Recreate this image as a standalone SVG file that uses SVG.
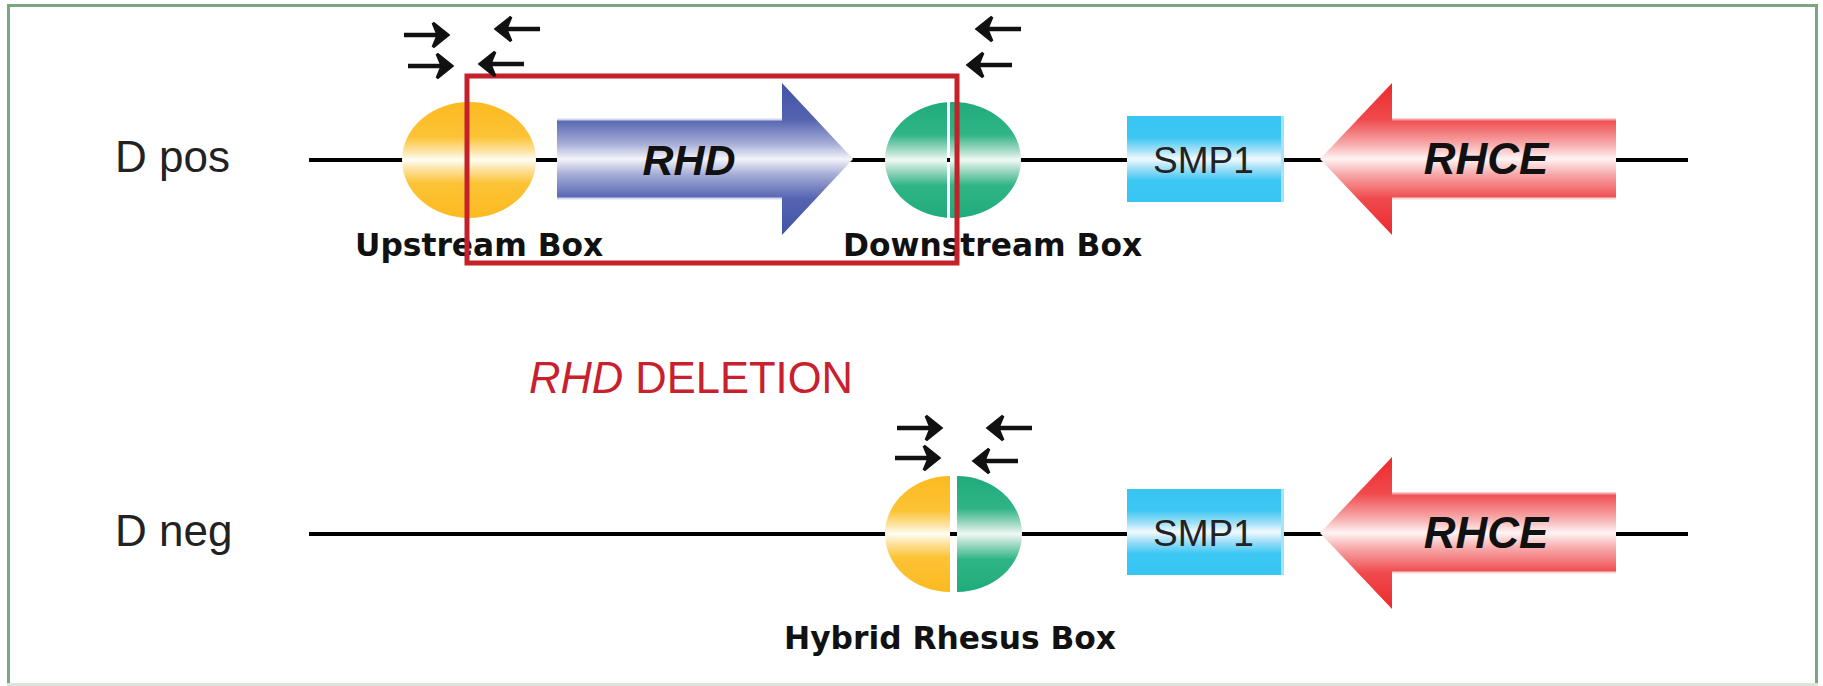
<svg xmlns="http://www.w3.org/2000/svg" width="1823" height="686" viewBox="0 0 1823 686">
<style>
.lbl{font-family:"Liberation Sans",Arial,sans-serif;fill:#222}
.gene{font-family:"Liberation Sans",Arial,sans-serif;font-weight:bold;font-style:italic;fill:#111}
.cap{font-family:"DejaVu Sans",Verdana,sans-serif;font-weight:bold;fill:#111;font-size:31.3px}
.chrom{stroke:#000;stroke-width:4;fill:none}
.primer{stroke:#111;fill:#111;stroke-linejoin:miter}
</style>
<defs>
<linearGradient id="gy" x1="0" y1="0" x2="0" y2="1">
<stop offset="0" stop-color="#FCBA20"/><stop offset="0.3" stop-color="#FCC336"/><stop offset="0.42" stop-color="#FDE2A0"/><stop offset="0.5" stop-color="#FFFDF5"/><stop offset="0.58" stop-color="#FDE2A0"/><stop offset="0.7" stop-color="#FCC336"/><stop offset="1" stop-color="#FCBA20"/>
</linearGradient>
<linearGradient id="gg" x1="0" y1="0" x2="0" y2="1">
<stop offset="0" stop-color="#20AB7C"/><stop offset="0.28" stop-color="#2FB585"/><stop offset="0.42" stop-color="#A8DCC8"/><stop offset="0.5" stop-color="#F1F9F6"/><stop offset="0.58" stop-color="#A8DCC8"/><stop offset="0.72" stop-color="#2FB585"/><stop offset="1" stop-color="#20AB7C"/>
</linearGradient>
<linearGradient id="gb" gradientUnits="userSpaceOnUse" x1="0" y1="83" x2="0" y2="235">
<stop offset="0" stop-color="#4353A7"/><stop offset="0.24" stop-color="#5464B0"/><stop offset="0.4" stop-color="#A6ADD6"/><stop offset="0.5" stop-color="#F4F4FA"/><stop offset="0.6" stop-color="#A6ADD6"/><stop offset="0.76" stop-color="#5464B0"/><stop offset="1" stop-color="#4353A7"/>
</linearGradient>
<linearGradient id="gr" gradientUnits="userSpaceOnUse" x1="0" y1="83" x2="0" y2="235">
<stop offset="0" stop-color="#EC2A2C"/><stop offset="0.24" stop-color="#F04A4D"/><stop offset="0.4" stop-color="#F7A9AA"/><stop offset="0.5" stop-color="#FFF4F4"/><stop offset="0.6" stop-color="#F7A9AA"/><stop offset="0.76" stop-color="#F04A4D"/><stop offset="1" stop-color="#EC2A2C"/>
</linearGradient>
<linearGradient id="gr2" gradientUnits="userSpaceOnUse" x1="0" y1="457" x2="0" y2="609">
<stop offset="0" stop-color="#EC2A2C"/><stop offset="0.24" stop-color="#F04A4D"/><stop offset="0.4" stop-color="#F7A9AA"/><stop offset="0.5" stop-color="#FFF4F4"/><stop offset="0.6" stop-color="#F7A9AA"/><stop offset="0.76" stop-color="#F04A4D"/><stop offset="1" stop-color="#EC2A2C"/>
</linearGradient>
<linearGradient id="gc" x1="0" y1="0" x2="0" y2="1">
<stop offset="0" stop-color="#37C5F3"/><stop offset="0.25" stop-color="#3DC7F3"/><stop offset="0.4" stop-color="#A6E1F8"/><stop offset="0.5" stop-color="#F2FAFE"/><stop offset="0.6" stop-color="#A6E1F8"/><stop offset="0.75" stop-color="#3DC7F3"/><stop offset="1" stop-color="#37C5F3"/>
</linearGradient>
<g id="pr">
<path d="M-45,0 H-6" fill="none" stroke-width="4.5"/>
<path d="M-1,0 L-16,-12 L-11,0 L-16,12 Z" stroke-width="3"/>
</g>
</defs>

<g id="frame">
<line x1="8.5" y1="4" x2="8.5" y2="686" stroke="#7BA67E" stroke-width="3"/>
<line x1="7" y1="5.5" x2="1818" y2="5.5" stroke="#7BA67E" stroke-width="3"/>
<line x1="1816.5" y1="4" x2="1816.5" y2="686" stroke="#7BA67E" stroke-width="3"/>
<line x1="7" y1="684.5" x2="1818" y2="684.5" stroke="#DCE5DC" stroke-width="3"/>
</g>

<g id="connectors">
<line class="chrom" x1="309" y1="160" x2="1688" y2="160"/>
<line class="chrom" x1="309" y1="534" x2="1688" y2="534"/>
</g>

<g id="row-labels">
<text class="lbl" x="115" y="172" font-size="44">D pos</text>
<text class="lbl" x="115" y="546" font-size="44">D neg</text>
</g>

<g id="upstream-box">
<ellipse cx="469" cy="160" rx="67" ry="58" fill="url(#gy)"/>
<text class="cap" x="355" y="256">Upstream Box</text>
</g>

<g id="rhd">
<path d="M557,119 H782 V83 L853,159 L782,235 V199 H557 Z" fill="url(#gb)"/>
<line x1="557" y1="119.5" x2="782" y2="119.5" stroke="#D4D8EE" stroke-width="2"/>
<line x1="557" y1="198.5" x2="782" y2="198.5" stroke="#D4D8EE" stroke-width="2"/>
<text class="gene" x="689" y="175" font-size="43" text-anchor="middle">RHD</text>
</g>

<g id="downstream-box">
<ellipse cx="953" cy="160" rx="68" ry="58" fill="url(#gg)"/>
<rect x="947" y="100" width="3" height="120" fill="#fff"/>
<rect x="947" y="158" width="3" height="4" fill="#000"/>
<text class="cap" x="843" y="256">Downstream Box</text>
</g>

<g id="smp1-pos">
<rect x="1127" y="116" width="157" height="86" fill="url(#gc)"/>
<rect x="1281" y="116" width="3" height="86" fill="#A8E2F8"/>
<text class="lbl" x="1153" y="173" font-size="37" fill="#333">SMP1</text>
</g>

<g id="rhce-pos">
<path d="M1320,159 L1392,83 V119 H1616 V199 H1392 V235 Z" fill="url(#gr)"/>
<line x1="1392" y1="119.5" x2="1616" y2="119.5" stroke="#F4A0A0" stroke-width="2"/>
<line x1="1392" y1="198.5" x2="1616" y2="198.5" stroke="#FAD6D6" stroke-width="2"/>
<text class="gene" x="1486" y="174" font-size="44" text-anchor="middle">RHCE</text>
</g>

<g id="rhd-region-box">
<rect x="467" y="76" width="490" height="187" fill="none" stroke="#C4212B" stroke-width="5"/>
</g>

<g id="primers-pos" class="primer">
<use href="#pr" transform="translate(449,35)"/>
<use href="#pr" transform="translate(453,66)"/>
<use href="#pr" transform="translate(495,29) scale(-1,1)"/>
<use href="#pr" transform="translate(479,64) scale(-1,1)"/>
<use href="#pr" transform="translate(976,29) scale(-1,1)"/>
<use href="#pr" transform="translate(967,65) scale(-1,1)"/>
</g>

<g id="deletion-label">
<text x="529" y="393" font-family="Liberation Sans, Arial, sans-serif" font-size="43.5" fill="#C8202D"><tspan font-style="italic">RHD</tspan> DELETION</text>
</g>

<g id="hybrid-box">
<path d="M950,476 A65,58 0 0 0 950,592 Z" fill="url(#gy)"/>
<path d="M957,476 A65,58 0 0 1 957,592 Z" fill="url(#gg)"/>
<text class="cap" x="784" y="649">Hybrid Rhesus Box</text>
</g>

<g id="primers-neg" class="primer">
<use href="#pr" transform="translate(942,428)"/>
<use href="#pr" transform="translate(940,458)"/>
<use href="#pr" transform="translate(987,428) scale(-1,1)"/>
<use href="#pr" transform="translate(973,461) scale(-1,1)"/>
</g>

<g id="smp1-neg">
<rect x="1127" y="489" width="157" height="86" fill="url(#gc)"/>
<rect x="1281" y="489" width="3" height="86" fill="#A8E2F8"/>
<text class="lbl" x="1153" y="546" font-size="37" fill="#333">SMP1</text>
</g>

<g id="rhce-neg">
<path d="M1320,533 L1392,457 V493 H1616 V573 H1392 V609 Z" fill="url(#gr2)"/>
<line x1="1392" y1="493.5" x2="1616" y2="493.5" stroke="#F4A0A0" stroke-width="2"/>
<line x1="1392" y1="572.5" x2="1616" y2="572.5" stroke="#FAD6D6" stroke-width="2"/>
<text class="gene" x="1486" y="548" font-size="44" text-anchor="middle">RHCE</text>
</g>
</svg>
